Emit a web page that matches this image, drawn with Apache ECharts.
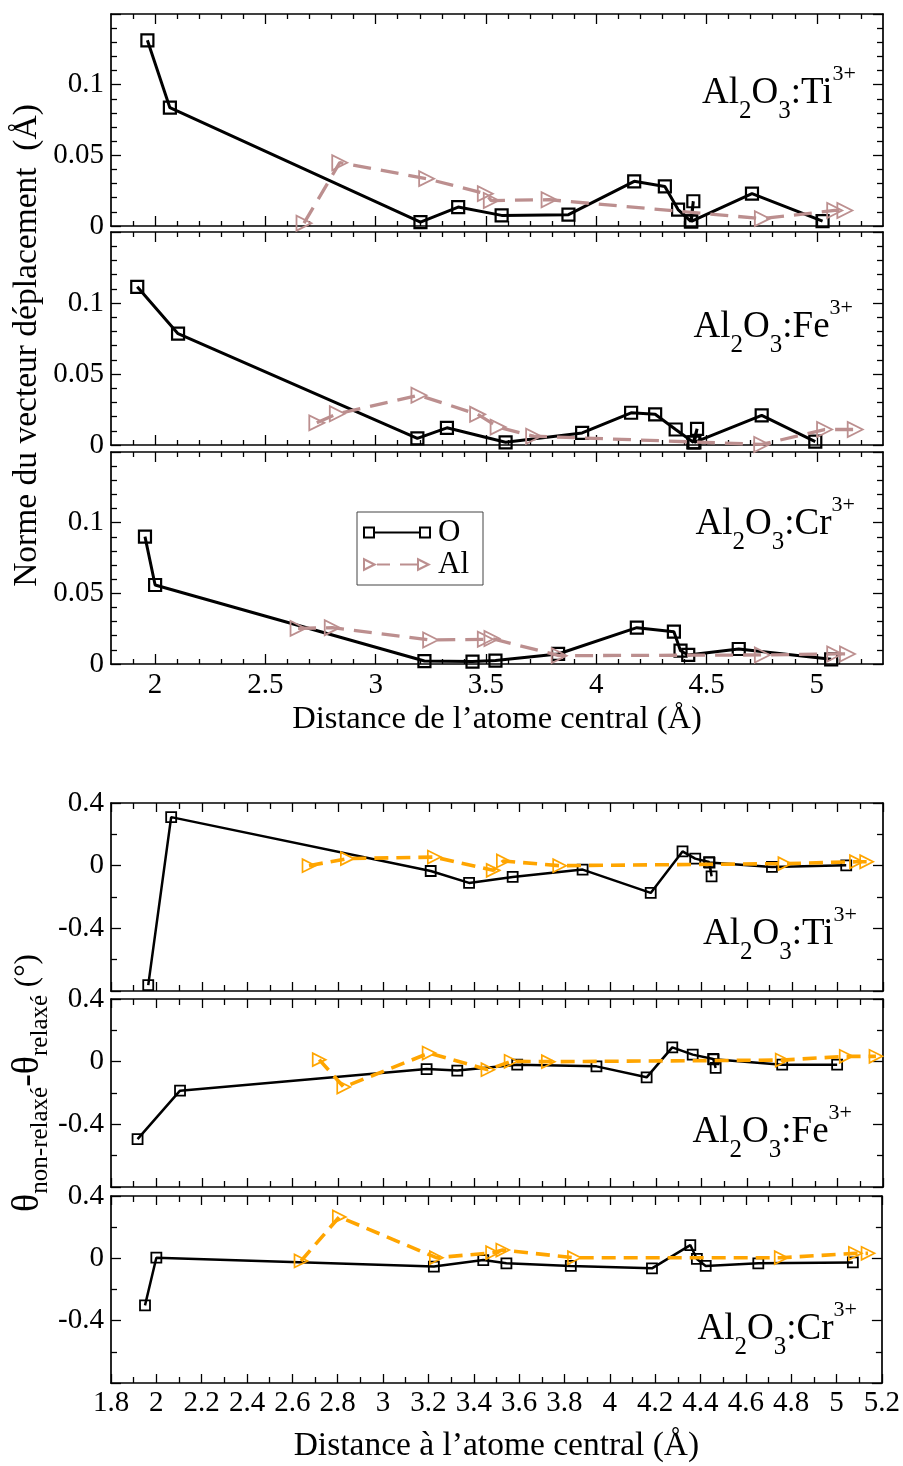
<!DOCTYPE html>
<html><head><meta charset="utf-8">
<script src="https://cdn.jsdelivr.net/npm/echarts@6/dist/echarts.min.js"></script>
<style>html,body{margin:0;padding:0;background:#fff}#c{width:903px;height:1466px}</style>
</head><body><div id="c"></div>
<script>
const FONT = "'Liberation Serif', 'Times New Roman', serif";

// ---------- data : displacement norm (Å) ----------
const dTiO_x = [1.965, 2.067, 3.203, 3.374, 3.571, 3.874, 4.172, 4.311, 4.371, 4.429, 4.440, 4.431, 4.706, 5.026];
const dTiO_y = [0.1314, 0.0837, 0.0028, 0.0134, 0.0075, 0.0080, 0.0316, 0.0280, 0.0116, 0.0033, 0.0175, 0.0033, 0.0229, 0.0035];
const dTiAl_x = [2.675, 2.837, 3.231, 3.497, 3.524, 3.786, 4.753, 5.081, 5.127];
const dTiAl_y = [0.002, 0.0448, 0.0335, 0.0229, 0.018, 0.0186, 0.0052, 0.011, 0.011];

const dFeO_x = [1.919, 2.104, 3.189, 3.323, 3.589, 3.936, 4.158, 4.267, 4.360, 4.440, 4.457, 4.445, 4.750, 4.993];
const dFeO_y = [0.1114, 0.0784, 0.0047, 0.0121, 0.0019, 0.0085, 0.0227, 0.0216, 0.0109, 0.0019, 0.0114, 0.0019, 0.0209, 0.0024];
const dFeAl_x = [2.733, 2.826, 3.196, 3.462, 3.555, 3.716, 4.750, 5.035, 5.174];
const dFeAl_y = [0.0156, 0.022, 0.035, 0.0216, 0.0126, 0.0062, 0.0004, 0.0109, 0.0109];

const dCrO_x = [1.954, 2.0, 3.221, 3.439, 3.543, 3.827, 4.184, 4.352, 4.382, 4.417, 4.646, 5.065];
const dCrO_y = [0.0901, 0.0559, 0.0021, 0.0017, 0.0024, 0.0071, 0.0257, 0.0229, 0.0094, 0.0064, 0.0106, 0.0033];
const dCrAl_x = [2.648, 2.803, 3.249, 3.497, 3.527, 3.832, 4.753, 5.081, 5.139];
const dCrAl_y = [0.0252, 0.0257, 0.017, 0.0175, 0.018, 0.0059, 0.0064, 0.0071, 0.0071];

// ---------- data : angle difference (°) ----------
const aTiO_x = [1.964, 2.065, 3.208, 3.377, 3.569, 3.877, 4.177, 4.317, 4.373, 4.434, 4.445, 4.436, 4.711, 5.038];
const aTiO_y = [-0.762, 0.310, -0.034, -0.110, -0.072, -0.025, -0.174, 0.091, 0.045, 0.023, -0.068, 0.020, -0.008, 0.002];
const aTiAl_x = [2.672, 2.841, 3.224, 3.483, 3.528, 3.776, 4.768, 5.083, 5.128];
const aTiAl_y = [0.0, 0.045, 0.055, -0.030, 0.030, 0.0, 0.013, 0.025, 0.025];

const aFeO_x = [1.917, 2.104, 3.190, 3.325, 3.589, 3.938, 4.159, 4.272, 4.362, 4.452, 4.463, 4.454, 4.756, 4.998];
const aFeO_y = [-0.494, -0.185, -0.047, -0.057, -0.019, -0.030, -0.100, 0.091, 0.045, 0.017, -0.040, 0.015, -0.019, -0.019];
const aFeAl_x = [2.717, 2.825, 3.201, 3.460, 3.562, 3.726, 4.756, 5.038, 5.169];
const aFeAl_y = [0.013, -0.162, 0.055, -0.051, 0.002, 0.0, 0.010, 0.034, 0.034];

const aCrO_x = [1.950, 2.0, 3.224, 3.442, 3.544, 3.828, 4.186, 4.355, 4.384, 4.423, 4.655, 5.072];
const aCrO_y = [-0.302, 0.004, -0.053, -0.011, -0.032, -0.049, -0.064, 0.085, -0.004, -0.049, -0.032, -0.026];
const aCrAl_x = [2.638, 2.807, 3.235, 3.483, 3.528, 3.844, 4.756, 5.083, 5.139];
const aCrAl_y = [-0.017, 0.266, 0.004, 0.036, 0.053, 0.004, 0.004, 0.032, 0.032];

// ---------- tick values & labels ----------
const topXMajor = [2, 2.5, 3, 3.5, 4, 4.5, 5];
const topXMinor = [1.9, 2.1, 2.2, 2.3, 2.4, 2.6, 2.7, 2.8, 2.9, 3.1, 3.2, 3.3, 3.4, 3.6, 3.7, 3.8, 3.9,
                   4.1, 4.2, 4.3, 4.4, 4.6, 4.7, 4.8, 4.9, 5.1, 5.2];
const ions = ['Ti', 'Fe', 'Cr'];
const seriesNames = ['O', 'Al'];
const topXTitle = 'Distance de l\u2019atome central (\u00C5)';
const botXTitle = 'Distance \u00E0 l\u2019atome central (\u00C5)';
const topYTitle = 'Norme du vecteur d\u00E9placement  (\u00C5)';

const zip = (xs, ys) => xs.map((x, i) => [x, ys[i]]);

// ---------- layout ----------
const grids = [
  {left: 111, right: 20, top: 14, height: 212},
  {left: 111, right: 20, top: 232, height: 213},
  {left: 111, right: 20, top: 452, height: 212},
  {left: 111, right: 20, top: 803, height: 188},
  {left: 111, right: 20, top: 999, height: 188},
  {left: 111, right: 20, top: 1196, height: 188}
];

const AX = {color: '#000', width: 1.7};
const TK = {color: '#000', width: 1.3};
const labelStyle = {fontFamily: FONT, fontSize: 29, color: '#000'};
const titleStyle = {fontFamily: FONT, fontSize: 32.5, color: '#000', lineHeight: 38};
const xAxes = [], yAxes = [], mainX = [], mainY = [];

function addTopX(gi, showLab) {
  mainX[gi] = xAxes.length;
  ['bottom', 'top'].forEach(pos => {
    const lab = showLab && pos === 'bottom';
    xAxes.push({
      type: 'value', gridIndex: gi, position: pos, min: 1.8, max: 5.3,
      axisLine: {show: true, onZero: false, lineStyle: AX},
      axisTick: {show: true, inside: true, length: 10, customValues: topXMajor, lineStyle: TK},
      axisLabel: Object.assign({show: lab, customValues: topXMajor, margin: 7}, labelStyle),
      splitLine: {show: false},
      name: lab ? topXTitle : '', nameLocation: 'middle', nameGap: 36,
      nameTextStyle: titleStyle
    });
    xAxes.push({
      type: 'value', gridIndex: gi, position: pos, min: 1.8, max: 5.3,
      axisLine: {show: false, onZero: false},
      axisTick: {show: true, inside: true, length: 5, customValues: topXMinor, lineStyle: TK},
      axisLabel: {show: false}, splitLine: {show: false}
    });
  });
}
function addBotX(gi, showLab) {
  mainX[gi] = xAxes.length;
  ['bottom', 'top'].forEach(pos => {
    const lab = showLab && pos === 'bottom';
    xAxes.push({
      type: 'value', gridIndex: gi, position: pos, min: 1.8, max: 5.2, interval: 0.2,
      axisLine: {show: true, onZero: false, lineStyle: AX},
      axisTick: {show: true, inside: true, length: 9, lineStyle: TK},
      minorTick: {show: true, splitNumber: 2, length: 6, lineStyle: TK},
      axisLabel: Object.assign({show: lab, margin: 6}, labelStyle),
      splitLine: {show: false}, minorSplitLine: {show: false},
      name: lab ? botXTitle : '', nameLocation: 'middle', nameGap: 44,
      nameTextStyle: Object.assign({}, titleStyle, {fontSize: 33.5})
    });
  });
}
function addY(gi, min, max, interval, minorSplit, hideVal, name) {
  mainY[gi] = yAxes.length;
  ['left', 'right'].forEach(pos => {
    const ax = {
      type: 'value', gridIndex: gi, position: pos, min: min, max: max, interval: interval,
      axisLine: {show: true, onZero: false, lineStyle: AX},
      axisTick: {show: true, inside: true, length: 10, lineStyle: TK},
      minorTick: {show: true, splitNumber: minorSplit, length: 6, lineStyle: TK},
      axisLabel: Object.assign({
        show: pos === 'left', margin: 7,
        formatter: v => (Math.abs(v - hideVal) < 1e-9 ? '' : String(+v.toFixed(4)))
      }, labelStyle),
      splitLine: {show: false}, minorSplitLine: {show: false}
    };
    if (pos === 'left' && name) Object.assign(ax, name);
    yAxes.push(ax);
  });
}

addTopX(0, false); addTopX(1, false); addTopX(2, true);
addBotX(3, false); addBotX(4, false); addBotX(5, true);
addY(0, 0, 0.15, 0.05, 5, 0.15);
addY(1, 0, 0.15, 0.05, 5, 0.15, {
  name: topYTitle, nameLocation: 'middle', nameGap: 66, nameMoveOverlap: false,
  nameTextStyle: {fontFamily: FONT, fontSize: 33.5, color: '#000', lineHeight: 36, padding: [0, 14, 0, 0]}
});
addY(2, 0, 0.15, 0.05, 5, 0.15);
addY(3, -0.8, 0.4, 0.4, 2, -0.8);
addY(4, -0.8, 0.4, 0.4, 2, -0.8, {
  name: '{t|\u03B8}{s|non-relax\u00E9}{t|-\u03B8}{s|relax\u00E9}{u| (\u00B0)}',
  nameLocation: 'middle', nameGap: 58, nameMoveOverlap: false,
  nameTextStyle: {
    color: '#000', fontFamily: FONT, padding: [0, 0, 0, 20],
    rich: {
      t: {fontFamily: FONT, fontSize: 38, lineHeight: 50, color: '#000'},
      s: {fontFamily: FONT, fontSize: 25, lineHeight: 22, verticalAlign: 'bottom', color: '#000'},
      u: {fontFamily: FONT, fontSize: 31, lineHeight: 50, color: '#000'}
    }
  }
});
addY(5, -0.8, 0.4, 0.4, 2, -0.8);

// ---------- series ----------
const BROWN = '#BC8F8F', ORANGE = '#FFA500';
const dispSets = [[dTiO_x, dTiO_y, dTiAl_x, dTiAl_y], [dFeO_x, dFeO_y, dFeAl_x, dFeAl_y], [dCrO_x, dCrO_y, dCrAl_x, dCrAl_y]];
const angSets = [[aTiO_x, aTiO_y, aTiAl_x, aTiAl_y], [aFeO_x, aFeO_y, aFeAl_x, aFeAl_y], [aCrO_x, aCrO_y, aCrAl_x, aCrAl_y]];
const series = [];
dispSets.forEach((s, i) => {
  series.push({
    type: 'line', name: seriesNames[0], xAxisIndex: mainX[i], yAxisIndex: mainY[i], data: zip(s[0], s[1]),
    symbol: 'rect', symbolSize: 12, showAllSymbol: true, z: 3,
    lineStyle: {color: '#000', width: 3},
    itemStyle: {color: 'rgba(0,0,0,0)', borderColor: '#000', borderWidth: 2.2}
  });
  series.push({
    type: 'line', name: seriesNames[1], xAxisIndex: mainX[i], yAxisIndex: mainY[i], data: zip(s[2], s[3]),
    symbol: 'triangle', symbolRotate: -90, symbolSize: 15, showAllSymbol: true, z: 4,
    lineStyle: {color: BROWN, width: 3.3, type: [18, 10]},
    itemStyle: {color: 'rgba(0,0,0,0)', borderColor: BROWN, borderWidth: 1.8}
  });
});
angSets.forEach((s, i) => {
  series.push({
    type: 'line', name: 'O ', xAxisIndex: mainX[i + 3], yAxisIndex: mainY[i + 3], data: zip(s[0], s[1]),
    symbol: 'rect', symbolSize: 10, showAllSymbol: true, z: 3,
    lineStyle: {color: '#000', width: 2.5},
    itemStyle: {color: 'rgba(0,0,0,0)', borderColor: '#000', borderWidth: 1.8}
  });
  series.push({
    type: 'line', name: 'Al ', xAxisIndex: mainX[i + 3], yAxisIndex: mainY[i + 3], data: zip(s[2], s[3]),
    symbol: 'triangle', symbolRotate: -90, symbolSize: 13, showAllSymbol: true, z: 4,
    lineStyle: {color: ORANGE, width: 3.6, type: [14, 8]},
    itemStyle: {color: 'rgba(0,0,0,0)', borderColor: ORANGE, borderWidth: 1.7}
  });
});

// ---------- panel labels ----------
const labelRich = {
  m: {fontFamily: FONT, fontSize: 37, lineHeight: 60, fill: '#000'},
  s: {fontFamily: FONT, fontSize: 25, lineHeight: 19, verticalAlign: 'bottom', fill: '#000'},
  p: {fontFamily: FONT, fontSize: 22, lineHeight: 24, verticalAlign: 'top', fill: '#000'}
};
const labelPos = [[856, 106], [853, 340], [855, 537], [857, 947], [852, 1145], [857, 1342]];
const graphics = labelPos.map((p, i) => ({
  type: 'text', x: p[0], y: p[1] - 42.5, z: 10,
  style: {
    text: '{m|Al}{s|2}{m|O}{s|3}{m|:' + ions[i % 3] + '}{p|3+}',
    align: 'right', verticalAlign: 'top', fill: '#000', rich: labelRich
  }
}));

const legendOIcon = 'path://M0,0L12,0L12,12L0,12Z M2,2L2,10L10,10L10,2Z M12,5L56,5L56,7L12,7Z M56,0L68,0L68,12L56,12Z M58,2L58,10L66,10L66,2Z';
const legendAlIcon = 'path://M0,0L14,7L0,14Z M2,3.5L2,10.5L9,7Z M14,6L27,6L27,8L14,8Z M37,6L54,6L54,8L37,8Z M54,0L68,7L54,14Z M56,3.5L56,10.5L63,7Z';

const option = {
  animation: false,
  backgroundColor: '#fff',
  grid: grids,
  xAxis: xAxes,
  yAxis: yAxes,
  series: series,
  graphic: graphics,
  legend: {
    orient: 'vertical', left: 357, top: 512, selectedMode: false,
    padding: [5, 14, 5, 6], itemGap: 1, itemWidth: 68, itemHeight: 14,
    borderColor: '#444', borderWidth: 1, backgroundColor: '#fff',
    textStyle: {fontFamily: FONT, fontSize: 31, color: '#000', lineHeight: 30, padding: [0, 0, 0, 2]},
    itemStyle: {borderWidth: 0},
    data: [
      {name: 'O', icon: legendOIcon, itemStyle: {color: '#000', borderWidth: 0}},
      {name: 'Al', icon: legendAlIcon, itemStyle: {color: BROWN, borderWidth: 0}}
    ]
  }
};
const chart = echarts.init(document.getElementById('c'), null, {renderer: 'canvas'});
chart.setOption(option);
</script></body></html>
